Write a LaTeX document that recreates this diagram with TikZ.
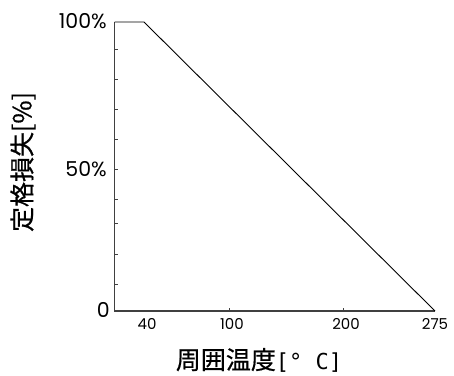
\documentclass[tikz,border=0pt]{standalone}
\usepackage{fontspec}
\newfontfamily\cjk[FakeBold=0.6]{Noto Sans CJK JP}
\newfontfamily\monof{DejaVu Sans Mono}
\newfontfamily\numf{Poppins}
\definecolor{axisgray}{HTML}{404040}
\begin{document}
\begin{tikzpicture}[x=1pt,y=-1pt,
  axisline/.style={draw=axisgray,line width=1.3pt},
  tickline/.style={draw=axisgray,line width=0.9pt},
  curve/.style={draw=black,line width=0.9pt},
  ylab/.style={anchor=east,inner sep=0pt,font=\numf\fontsize{20.5}{20.5}\selectfont},
  xlab/.style={anchor=center,inner sep=0pt,font=\numf\fontsize{15}{15}\selectfont},
  title/.style={inner sep=0pt,font=\cjk\fontsize{25}{25}\selectfont}]
\useasboundingbox (0,0) rectangle (454,375);
% axes
\coordinate (top) at (114.5,22);
\coordinate (orig) at (114.5,311);
\coordinate (xend) at (435,311);
\coordinate (knee) at (144,22);
\draw[axisline] (top) -- (orig) -- (xend);
% y ticks
\foreach \y in {49,79,109,139,169,199,223,254,284}
  \draw[tickline] (114.5,\y) -- (118,\y);
% x ticks
\foreach \x in {229,343}
  \draw[tickline] (\x,311) -- (\x,307.5);
% curve
\draw[curve] (top) -- (knee) -- (xend);
% labels
\node[ylab] (y100) at (107,21) {100\%};
\node[ylab] (y50) at (107,169) {50\%};
\node[ylab] (y0) at (110,310) {0};
\node[xlab] (x40) at (147,324) {40};
\node[xlab] (x100) at (232,324) {100};
\node[xlab] (x200) at (346,324) {200};
\node[xlab] (x275) at (435,324) {275};
\node[title,rotate=90] (ytitle) at (23,162) {定格損失[\%]};
\node[title] (xtitle) at (259,360) {周囲温度{\monof\fontsize{22}{22}\selectfont[°\ C]}};
\end{tikzpicture}
\end{document}
